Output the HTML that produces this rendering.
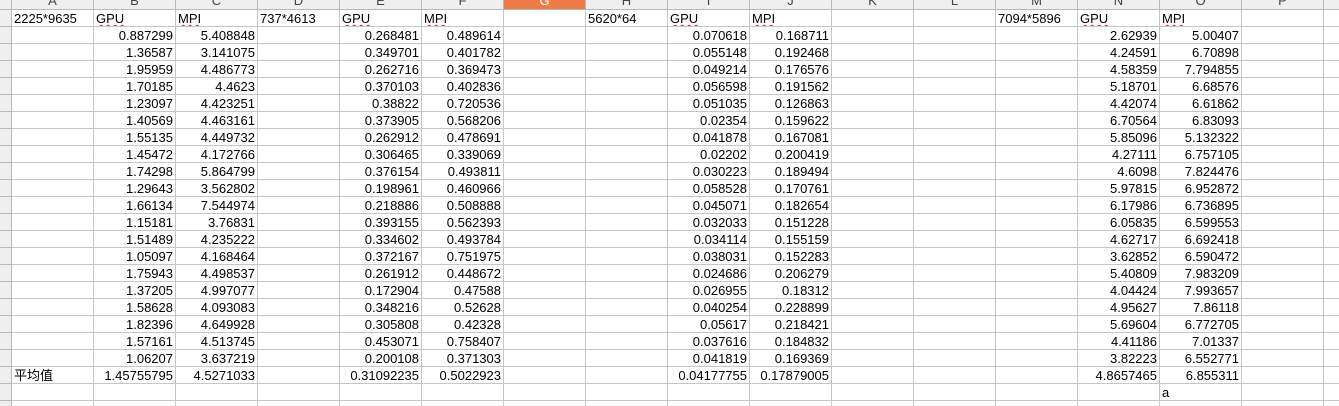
<!DOCTYPE html>
<html><head><meta charset="utf-8">
<style>
html,body{margin:0;padding:0;background:#fff;width:1339px;height:406px;overflow:hidden;font-family:"Liberation Sans","Noto Sans CJK SC",sans-serif;}
#sheet{position:relative;width:1339px;height:406px;overflow:hidden;}
.c{position:absolute;box-sizing:border-box;border-right:1px solid #c6c6c6;border-bottom:1px solid #c6c6c6;font-size:13px;line-height:18px;white-space:nowrap;overflow:hidden;color:#000;}
.r{text-align:right;padding-right:2px;}
.l{text-align:left;padding-left:2px;}
.h{background:#efefef;color:#444;text-align:center;border-color:#b8b8b8;}
.hc{line-height:10px;font-size:13px;}
.hc span{position:relative;top:-4px;}
.sel{background:#ee7c46;color:#fff;}
.sq{text-decoration:underline wavy #e02020;text-decoration-thickness:1px;text-underline-offset:1px;}
</style></head>
<body>
<div id="sheet"></div>
<script>
const colLetters=["A","B","C","D","E","F","G","H","I","J","K","L","M","N","O","P",""];
const headerRow={A:"2225*9635",B:"GPU",C:"MPI",D:"737*4613",E:"GPU",F:"MPI",H:"5620*64",I:"GPU",J:"MPI",M:"7094*5896",N:"GPU",O:"MPI"};
const colB=["0.887299","1.36587","1.95959","1.70185","1.23097","1.40569","1.55135","1.45472","1.74298","1.29643","1.66134","1.15181","1.51489","1.05097","1.75943","1.37205","1.58628","1.82396","1.57161","1.06207","1.45755795"];
const colC=["5.408848","3.141075","4.486773","4.4623","4.423251","4.463161","4.449732","4.172766","5.864799","3.562802","7.544974","3.76831","4.235222","4.168464","4.498537","4.997077","4.093083","4.649928","4.513745","3.637219","4.5271033"];
const colE=["0.268481","0.349701","0.262716","0.370103","0.38822","0.373905","0.262912","0.306465","0.376154","0.198961","0.218886","0.393155","0.334602","0.372167","0.261912","0.172904","0.348216","0.305808","0.453071","0.200108","0.31092235"];
const colF=["0.489614","0.401782","0.369473","0.402836","0.720536","0.568206","0.478691","0.339069","0.493811","0.460966","0.508888","0.562393","0.493784","0.751975","0.448672","0.47588","0.52628","0.42328","0.758407","0.371303","0.5022923"];
const colI=["0.070618","0.055148","0.049214","0.056598","0.051035","0.02354","0.041878","0.02202","0.030223","0.058528","0.045071","0.032033","0.034114","0.038031","0.024686","0.026955","0.040254","0.05617","0.037616","0.041819","0.04177755"];
const colJ=["0.168711","0.192468","0.176576","0.191562","0.126863","0.159622","0.167081","0.200419","0.189494","0.170761","0.182654","0.151228","0.155159","0.152283","0.206279","0.18312","0.228899","0.218421","0.184832","0.169369","0.17879005"];
const colN=["2.62939","4.24591","4.58359","5.18701","4.42074","6.70564","5.85096","4.27111","4.6098","5.97815","6.17986","6.05835","4.62717","3.62852","5.40809","4.04424","4.95627","5.69604","4.41186","3.82223","4.8657465"];
const colO=["5.00407","6.70898","7.794855","6.68576","6.61862","6.83093","5.132322","6.757105","7.824476","6.952872","6.736895","6.599553","6.692418","6.590472","7.983209","7.993657","7.86118","6.772705","7.01337","6.552771","6.855311"];
const dataCols={B:colB,C:colC,E:colE,F:colF,I:colI,J:colJ,N:colN,O:colO};
const sheet=document.getElementById('sheet');
const X0=12,CW=82,HH=10,RH=17,NR=24;
function cell(x,y,w,h,cls,html){
  const d=document.createElement('div');
  d.className='c '+cls;
  d.style.left=x+'px';d.style.top=y+'px';d.style.width=w+'px';d.style.height=h+'px';
  d.innerHTML=html||'';
  sheet.appendChild(d);
  return d;
}
let k=cell(0,0,X0,HH,'h','');


colLetters.forEach((L,i)=>{
  const d=cell(X0+i*CW,0,CW,HH,'h hc'+(L==='G'?' sel':''),'<span>'+L+'</span>');
  
  
});
for(let r=0;r<NR;r++){
  const y=HH+r*RH;
  const rh=cell(0,y,X0,RH,'h','');
  
  
  colLetters.forEach((L,i)=>{
    let txt='',cls='l';
    if(r===0&&headerRow[L]){
      txt=headerRow[L];
      if(txt==='GPU'||txt==='MPI') txt='<span class="sq">'+txt+'</span>';
    } else if(r>=1&&r<=21&&dataCols[L]){
      txt=dataCols[L][r-1];cls='r';
    } else if(r===21&&L==='A'){
      txt='平均值';
    } else if(r===22&&L==='O'){
      txt='a';
    }
    const d=cell(X0+i*CW,y,CW,RH,cls,txt);
    
    
  });
}
</script>
</body></html>
